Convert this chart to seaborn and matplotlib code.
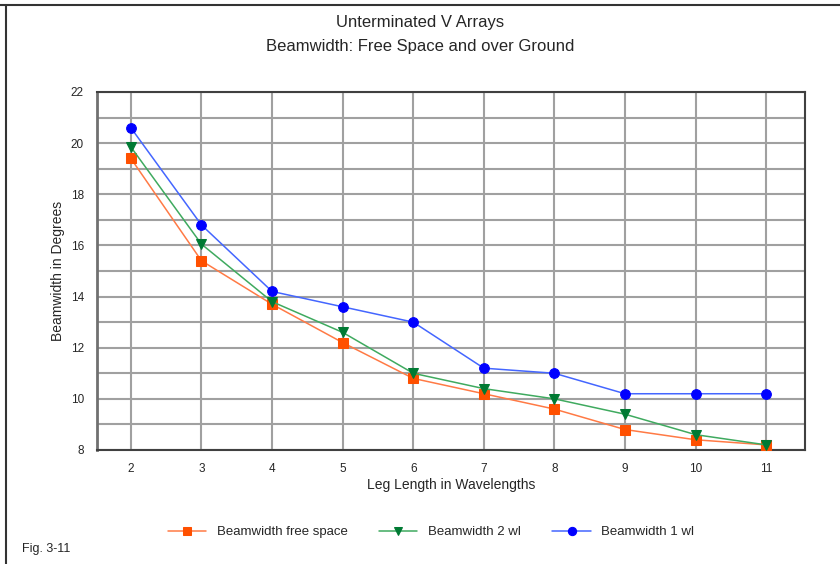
import numpy as np
import pandas as pd
import seaborn as sns
import matplotlib.pyplot as plt
from matplotlib.lines import Line2D

# leg length in wavelengths
leg_length = [2, 3, 4, 5, 6, 7, 8, 9, 10, 11]
# beamwidth in degrees
bw_free_space = [19.4, 15.4, 13.7, 12.2, 10.8, 10.2, 9.6, 8.8, 8.4, 8.2]
bw_2wl = [19.85, 16.05, 13.8, 12.6, 11.0, 10.4, 10.0, 9.4, 8.6, 8.2]
bw_1wl = [20.6, 16.8, 14.2, 13.6, 13.0, 11.2, 11.0, 10.2, 10.2, 10.2]

series_names = ["Beamwidth free space", "Beamwidth 2 wl", "Beamwidth 1 wl"]

sns.set_style("white")
plt.rcParams['font.family'] = ['Liberation Sans', 'DejaVu Sans']

fig = plt.figure(figsize=(8.4, 5.64), dpi=100)
ax = fig.add_axes([97/840, 1 - 450/564, 708/840, 358/564])

#line styles: (series, line colour, marker, marker colour)
styles = [
    (bw_free_space, "#FF7A45", "s", "#FF5000"),
    (bw_2wl, "#3FAA5F", "v", "#007A33"),
    (bw_1wl, "#4466FF", "o", "#0000FF"),
]
for (vals, lc, mk, mc), name in zip(styles, series_names):
    df = pd.DataFrame({"leg": leg_length, "bw": vals})
    sns.lineplot(data=df, x="leg", y="bw", ax=ax, color=lc, lw=1.1,
                 marker=mk, markersize=7, markerfacecolor=mc,
                 markeredgecolor=mc, label=name, zorder=3)

ax.set_xlim(1.52, 11.55)
ax.set_ylim(8, 22)
ax.set_xticks(leg_length)
ax.set_yticks(np.arange(8, 23, 2))
ax.set_yticks(np.arange(8, 23, 1), minor=True)
ax.grid(True, which="both", color="#A0A0A0", lw=1.5)
ax.set_axisbelow(True)
for s in ax.spines.values():
    s.set_color("#404040")
    s.set_linewidth(1.5)
ax.spines["left"].set_color("#707070")
ax.spines["left"].set_linewidth(2)
ax.tick_params(axis="both", which="both", direction="out", length=6,
               color="#808080", labelsize=8.5, width=1)

ax.set_xlabel("Leg Length in Wavelengths", fontsize=10, labelpad=2)
ax.set_ylabel("Beamwidth in Degrees", fontsize=10, labelpad=4)

fig.text(0.5, 1 - 23/564, "Unterminated V Arrays", ha="center", va="center", fontsize=12)
fig.text(0.5, 1 - 47/564, "Beamwidth: Free Space and over Ground", ha="center", va="center", fontsize=12)
fig.text(22/840, 1 - 549/564, "Fig. 3-11", ha="left", va="center", fontsize=9)

ax.legend(loc="center", bbox_to_anchor=(431/840, 1 - 532/564), bbox_transform=fig.transFigure,
          ncol=3, frameon=False, fontsize=9.5, handlelength=2.9, columnspacing=2.4,
          handletextpad=0.8, markerscale=0.85)

#frame lines around the figure
fig.add_artist(Line2D([0, 1], [1 - 5/564, 1 - 5/564], color="#333333", lw=1.5, transform=fig.transFigure))
fig.add_artist(Line2D([6/840, 6/840], [0, 1 - 5/564], color="#333333", lw=1.5, transform=fig.transFigure))

fig.savefig("out.png", dpi=100)
